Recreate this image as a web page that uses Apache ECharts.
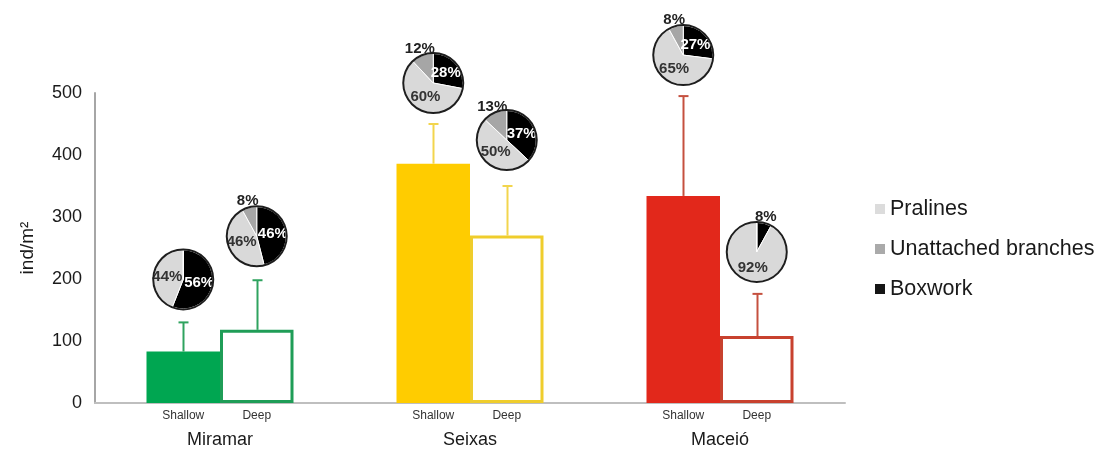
<!DOCTYPE html>
<html><head><meta charset="utf-8">
<script src="https://cdn.jsdelivr.net/npm/echarts@6/dist/echarts.min.js"></script>
<style>html,body{margin:0;padding:0;background:#fff}#c{width:1099px;height:450px}</style>
</head><body><div id="c"></div>
<script>
// ---------- data ----------
const sites = ['Miramar', 'Seixas', 'Maceió'];
const depths = ['Shallow', 'Deep'];
const shallowMean = [83, 386, 334];
const deepMean = [118, 270, 108];
const shallowErr = [47, 64, 161];
const deepErr = [80, 80, 68];
const substrates = ['Pralines', 'Unattached branches', 'Boxwork'];
// composition (%) per pie: [Pralines, Unattached branches, Boxwork]
const shallowPie = [[44, 0, 56], [60, 12, 28], [65, 8, 27]];
const deepPie = [[46, 8, 46], [50, 13, 37], [92, 0, 8]];
const yTicks = [0, 100, 200, 300, 400, 500];

// ---------- styles / layout ----------
const FONT = "'Liberation Sans', Arial, sans-serif";
const NARROW = "'Liberation Sans Narrow', 'Arial Narrow', 'Liberation Sans', sans-serif";
const siteFill = ['#00a651', '#ffcc00', '#e2281b'];
const deepBorder = ['#1f9d57', '#efcd2c', '#c8412e'];
const errColor = ['#2fa35f', '#f2d54d', '#c5503f'];
const subColor = {'Pralines': '#d9d9d9', 'Unattached branches': '#a6a6a6', 'Boxwork': '#000000'};
const legendColor = {'Pralines': '#dcdcdc', 'Unattached branches': '#aaaaaa', 'Boxwork': '#151515'};
const BAR_FRAC = 0.294;      // bar width as share of category band
const PIE_R = 29.5;
const pieLift = [[43, 44], [41, 46], [41, 42]]; // px above error cap

const chart = echarts.init(document.getElementById('c'), null, {renderer: 'canvas'});

function errSeries(means, errs, sign) {
  return {
    type: 'custom', z: 5, silent: true,
    data: means.map((m, i) => [i, m, errs[i]]),
    renderItem: function (params, api) {
      const i = api.value(0);
      const band = api.size([1, 0])[0];
      const off = sign * band * BAR_FRAC / 2;
      const b = api.coord([i, api.value(1)]);
      const t = api.coord([i, api.value(1) + api.value(2)]);
      const x = Math.round(b[0] + off) + 0.5;
      const c = errColor[i];
      return {type: 'group', children: [
        {type: 'line', shape: {x1: x, y1: b[1], x2: x, y2: t[1]}, style: {stroke: c, lineWidth: 2}},
        {type: 'line', shape: {x1: x - 5, y1: t[1], x2: x + 5, y2: t[1]}, style: {stroke: c, lineWidth: 2}}
      ]};
    }
  };
}

const barLabel = {
  show: true, position: 'bottom', distance: 7, formatter: '{a}',
  fontSize: 12, fontFamily: NARROW, color: '#333'
};

const option = {
  animation: false,
  backgroundColor: '#fff',
  grid: {left: 95, top: 93, width: 750, height: 310},
  legend: {
    orient: 'vertical', left: 875, top: 198, padding: 0,
    data: substrates.map(n => ({name: n, itemStyle: {color: legendColor[n], borderWidth: 0}})),
    icon: 'rect', itemWidth: 10, itemHeight: 10, itemGap: 18,
    selectedMode: false,
    itemStyle: {borderWidth: 0},
    textStyle: {fontSize: 21.5, fontFamily: FONT, color: '#1a1a1a'}
  },
  xAxis: {
    type: 'category', data: sites,
    axisLine: {show: true, lineStyle: {color: '#bfbfbf', width: 2}},
    axisTick: {show: false},
    axisLabel: {margin: 28, fontSize: 18, fontFamily: NARROW, color: '#1a1a1a'}
  },
  yAxis: {
    type: 'value', min: yTicks[0], max: yTicks[yTicks.length - 1], interval: yTicks[1] - yTicks[0],
    name: 'ind/m²', nameLocation: 'middle', nameGap: 58,
    nameTextStyle: {fontSize: 19, fontFamily: FONT, color: '#1a1a1a'},
    axisLine: {show: true, lineStyle: {color: '#a6a6a6', width: 2}},
    axisTick: {show: false},
    splitLine: {show: false},
    axisLabel: {margin: 13, fontSize: 18, fontFamily: FONT, color: '#1a1a1a'}
  },
  series: [
    {
      name: depths[0], type: 'bar', barWidth: (BAR_FRAC * 100) + '%', barGap: '0%',
      data: shallowMean.map((v, i) => ({value: v, itemStyle: {color: siteFill[i]}})),
      label: barLabel
    },
    {
      name: depths[1], type: 'bar', barWidth: (BAR_FRAC * 100) + '%', barGap: '0%',
      data: deepMean.map((v, i) => ({value: v, itemStyle: {color: '#ffffff', borderColor: deepBorder[i], borderWidth: 3}})),
      label: barLabel
    },
    errSeries(shallowMean, shallowErr, -1),
    errSeries(deepMean, deepErr, 1)
  ]
};
chart.setOption(option);

// ---------- pies placed from the axes ----------
const order = [2, 0, 1]; // clockwise from 12 o'clock: Boxwork, Pralines, Unattached
const x0 = chart.convertToPixel({xAxisIndex: 0}, sites[0]);
const x1 = chart.convertToPixel({xAxisIndex: 0}, sites[1]);
const band = x1 - x0;
const pieSeries = [];
sites.forEach((s, i) => {
  [0, 1].forEach(j => {
    const mean = j === 0 ? shallowMean[i] : deepMean[i];
    const err = j === 0 ? shallowErr[i] : deepErr[i];
    const comp = j === 0 ? shallowPie[i] : deepPie[i];
    const cx = chart.convertToPixel({xAxisIndex: 0}, s) + (j === 0 ? -1 : 1) * band * BAR_FRAC / 2;
    const cy = chart.convertToPixel({yAxisIndex: 0}, mean + err) - pieLift[i][j];
    const data = order.map(k => ({
      name: substrates[k], value: comp[k],
      itemStyle: {color: subColor[substrates[k]]},
      label: {color: comp[k] < 15 ? '#222' : (k === 2 ? '#ffffff' : '#333333')}
    }));
    const total = data.reduce((a, d) => a + d.value, 0);
    let acc = 0;
    const mids = data.map(d => { const m = (acc + d.value / 2) / total * Math.PI * 2; acc += d.value; return m; });
    pieSeries.push({
      type: 'pie', z: 10, silent: true, center: [cx, cy], radius: [0, PIE_R],
      startAngle: 90, clockwise: true, avoidLabelOverlap: false,
      itemStyle: {borderColor: '#ffffff', borderWidth: 1},
      label: {
        show: true, position: 'inside', fontSize: 15, fontWeight: 'bold', fontFamily: FONT,
        textBorderWidth: 0,
        formatter: p => p.value > 0 ? p.value + '%' : ''
      },
      labelLine: {show: false},
      labelLayout: function (p) {
        const d = data[p.dataIndex];
        const a = mids[p.dataIndex];
        if (d.value > 0 && d.value < 15) {
          const dist = PIE_R + 7;
          return {x: cx + dist * Math.sin(a), y: cy - dist * Math.cos(a), align: 'center', verticalAlign: 'middle'};
        }
        const dist = PIE_R * 0.55;
        return {x: cx + dist * Math.sin(a), y: cy - dist * Math.cos(a), align: 'center', verticalAlign: 'middle'};
      },
      data: data
    });
    pieSeries.push({
      type: 'pie', z: 11, silent: true, center: [cx, cy], radius: [PIE_R - 0.5, PIE_R + 1.5],
      label: {show: false}, labelLine: {show: false},
      itemStyle: {color: '#1e1e1e', borderWidth: 0},
      data: [{name: 'outline', value: 1}]
    });
  });
});
chart.setOption({series: option.series.concat(pieSeries)});
</script>
</body></html>
